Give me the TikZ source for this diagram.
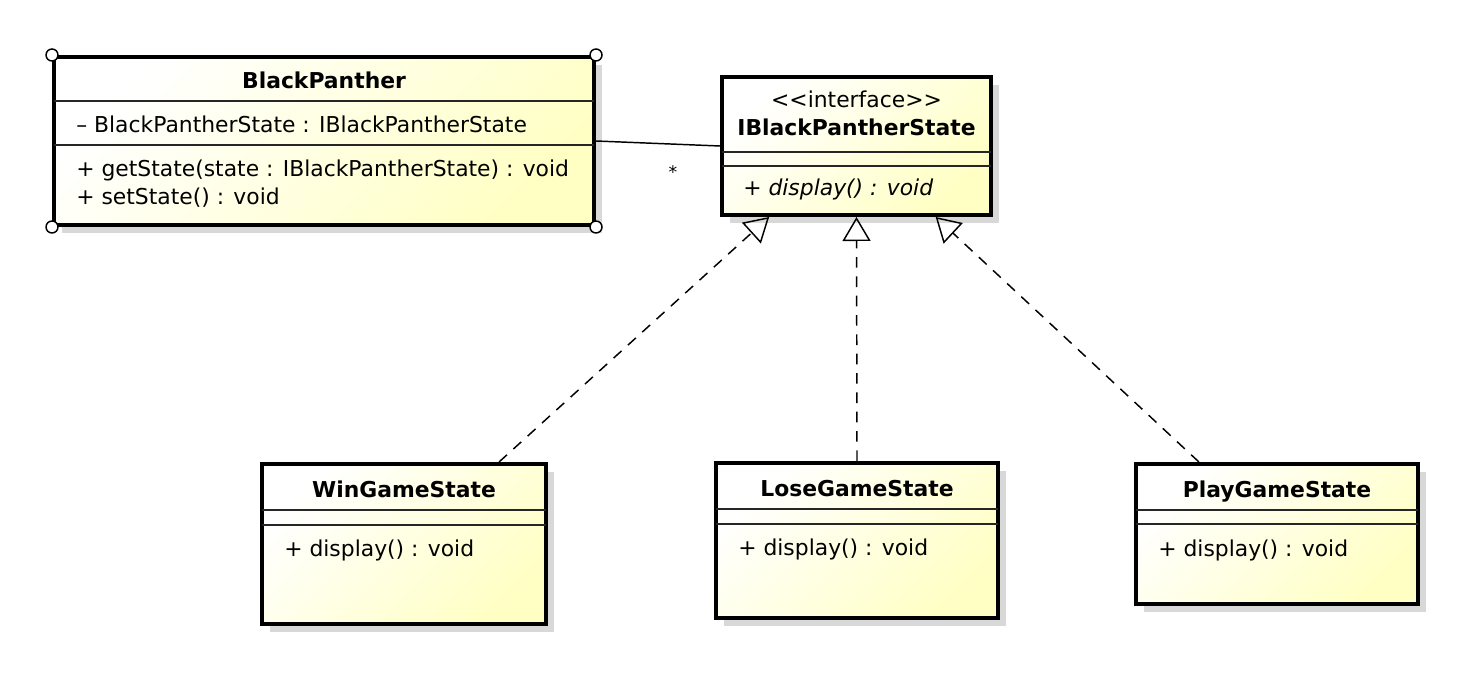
\documentclass[tikz,border=0pt]{standalone}
\usepackage{fontspec}
\setmainfont{DejaVu Sans}
\usetikzlibrary{arrows.meta,fit,calc}
\definecolor{umlyellow}{RGB}{255,255,196}
\definecolor{shadowgray}{RGB}{216,216,216}
\tikzset{
  classbox/.style={inner sep=0pt, draw=black, line width=3pt,
    top color=white, bottom color=umlyellow, shading angle=45},
  sep/.style={line width=1.1pt, draw=black!85},
  shadowbox/.style={fill=shadowgray},
  txt/.style={font=\fontsize{16.4}{18}\selectfont, inner sep=0pt},
  ttl/.style={font=\fontsize{16.4}{18}\selectfont\bfseries, inner sep=0pt},
  corner/.style={circle, draw=black, fill=white, line width=1.1pt, minimum size=9pt, inner sep=0pt},
  realize/.style={line width=1.1pt, dash pattern=on 8pt off 6.5pt,
    -{Triangle[open, length=18pt, width=21pt, line width=1.1pt]}},
  assoc/.style={line width=1.1pt}
}
\begin{document}
\begin{tikzpicture}[x=0.75pt, y=-0.75pt]
\useasboundingbox (0,0) rectangle (1462,684);
% shadows
\fill[shadowbox] (62,65) rectangle (602,233);
\fill[shadowbox] (730,85) rectangle (999,223);
\fill[shadowbox] (270,472) rectangle (554,632);
\fill[shadowbox] (724,471) rectangle (1006,626);
\fill[shadowbox] (1144,472) rectangle (1426,612);

% BlackPanther
\node[classbox, fit={(54,57) (594,225)}] (bp) {};
\draw[sep] (54,101) -- (594,101);
\draw[sep] (54,145) -- (594,145);
\node[ttl, anchor=base] (bpt) at (324,89) {BlackPanther};
\node[txt, anchor=base west] (bpa) at (76,133) {– BlackPantherState : IBlackPantherState};
\node[txt, anchor=base west] (bpm1) at (76,177) {+ getState(state : IBlackPantherState) : void};
\node[txt, anchor=base west] (bpm2) at (76,205) {+ setState() : void};
\node[corner] (c1) at (bp.north west) {};
\node[corner] (c2) at (bp.north east) {};
\node[corner] (c3) at (bp.south west) {};
\node[corner] (c4) at (bp.south east) {};

% IBlackPantherState
\node[classbox, fit={(722,77) (991,215)}] (ibs) {};
\draw[sep] (722,152) -- (991,152);
\draw[sep] (722,166) -- (991,166);
\node[txt, anchor=base] (ibst) at (856.5,108) {{<}{<}interface{>}{>}};
\node[ttl, anchor=base] (ibsn) at (856.5,136) {IBlackPantherState};
\node[txt, anchor=base west, font=\fontsize{16.4}{18}\selectfont\itshape] (ibsm) at (743,196) {+ display() : void};

% WinGameState
\node[classbox, fit={(262,464) (546,624)}] (win) {};
\draw[sep] (262,510) -- (546,510);
\draw[sep] (262,525) -- (546,525);
\node[ttl, anchor=base] (wint) at (404,497) {WinGameState};
\node[txt, anchor=base west] (winm) at (284,556) {+ display() : void};

% LoseGameState
\node[classbox, fit={(716,463) (998,618)}] (lose) {};
\draw[sep] (716,509) -- (998,509);
\draw[sep] (716,524) -- (998,524);
\node[ttl, anchor=base] (loset) at (857,496) {LoseGameState};
\node[txt, anchor=base west] (losem) at (738,555) {+ display() : void};

% PlayGameState
\node[classbox, fit={(1136,464) (1418,604)}] (play) {};
\draw[sep] (1136,510) -- (1418,510);
\draw[sep] (1136,524) -- (1418,524);
\node[ttl, anchor=base] (playt) at (1277,497) {PlayGameState};
\node[txt, anchor=base west] (playm) at (1158,556) {+ display() : void};

% association
\draw[assoc] (bp.east) -- (ibs.west);
\node[txt, font=\fontsize{13}{14}\selectfont] (star) at (673,172) {*};

% realizations
\draw[realize] ($(win.north west)!0.83!(win.north east)$) -- ($(ibs.south west)!0.18!(ibs.south east)$);
\draw[realize] (lose.north) -- (ibs.south);
\draw[realize] ($(play.north west)!0.227!(play.north east)$) -- ($(ibs.south west)!0.79!(ibs.south east)$);
\end{tikzpicture}
\end{document}
